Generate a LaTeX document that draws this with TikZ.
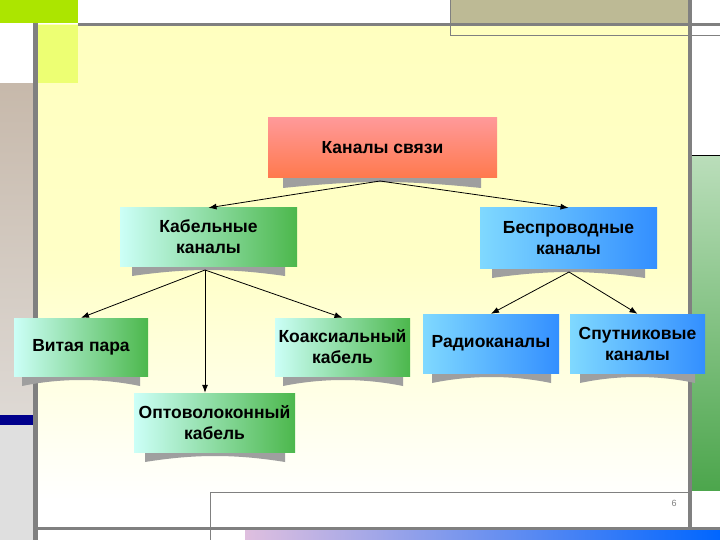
\documentclass[tikz,border=0pt]{standalone}
\usepackage{fontspec}
\setmainfont{Liberation Sans}
\usetikzlibrary{arrows.meta}
\begin{document}
\begin{tikzpicture}[x=1pt,y=-1pt,
 box/.style={minimum width=#1, inner sep=2pt, align=center, font=\fontsize{17.5}{21}\selectfont\bfseries},
 redbox/.style={top color=red!40!white, bottom color=red!50!orange!70!white},
 greenbox/.style={left color=green!15!cyan!20!white, right color=green!60!black!70!white},
 bluebox/.style={left color=blue!30!cyan!50!white, right color=blue!55!cyan!80!white},
 arr/.style={-{Latex[length=8pt,width=6pt]}, thick}]
\useasboundingbox (0,0) rectangle (720,540);
% background decoration
\fill[white] (0,0) rectangle (720,540);
\shade[top color=yellow!25, bottom color=white, middle color=yellow!22] (38,25) rectangle (688,500);
\fill[lime!90!black] (0,0) rectangle (78,23);
\fill[lime!50!yellow!55!white] (38,25) rectangle (78,83);
\fill[top color=brown!40!gray!55!white, bottom color=brown!25!gray!30!white] (0,84) rectangle (33,415);
\fill[blue!55!black] (0,415) rectangle (33,425);
\fill[gray!25] (0,425) rectangle (33,540);
\fill[gray] (33,23) rectangle (38,540);
\fill[gray] (78,23) rectangle (720,26);
\fill[olive!35!gray!60!white] (450,0) rectangle (688,23);
\draw[gray, thick] (450,0) -- (450,35) -- (688,35);
\fill[gray] (688,0) rectangle (692,540);
\draw[gray, thick] (692,35) -- (720,35);
\fill[top color=green!35!gray!40!white, bottom color=green!50!black!70!white] (692,156) rectangle (720,490);
\draw[black, thick] (692,155) -- (720,155);
\draw[gray, thick] (210,540) -- (210,492) -- (688,492);
\fill[gray] (38,527) rectangle (720,530);
\fill[left color=violet!25!white, right color=blue!60!cyan] (245,530) rectangle (720,540);
\node[gray, font=\small] (pg) at (674,503) {6};
% shadows
\foreach \a/\b/\c in {283/481/178, 132/285/266, 492/645/268, 22/140/376, 283/403/376, 145/285/452, 432/551/373, 580/695/373}{
  \fill[gray!75] (\a,\c) -- (\b,\c) -- (\b,\c+10) .. controls ({(\a+\b)/2+20},\c+2) and ({(\a+\b)/2-20},\c+2) .. (\a,\c+10) -- cycle;
}
% nodes
\node[box=229pt, minimum height=60pt, redbox] (root) at (382.5,148) {Каналы связи};
\node[box=177pt, minimum height=58pt, greenbox] (cab) at (208.5,237) {Кабельные\\каналы};
\node[box=177pt, minimum height=60pt, bluebox] (wl) at (568.5,238) {Беспроводные\\каналы};
\node[box=134pt, minimum height=58pt, greenbox] (tp) at (81,347) {Витая пара};
\node[box=135pt, minimum height=58pt, greenbox] (coax) at (342.5,347) {Коаксиальный\\кабель};
\node[box=161pt, minimum height=59pt, greenbox] (opt) at (214.5,422.5) {Оптоволоконный\\кабель};
\node[box=136pt, minimum height=59pt, bluebox] (radio) at (491,343.5) {Радиоканалы};
\node[box=135pt, minimum height=59pt, bluebox] (sat) at (637.5,343.5) {Спутниковые\\каналы};
% arrows
\coordinate (r0) at (380,181);
\coordinate (c0) at (205,270);
\coordinate (w0) at (569,272);
\draw[arr] (r0) -- (cab.north);
\draw[arr] (r0) -- (wl.north);
\draw[arr] (c0) -- (tp.north);
\draw[arr] (c0) -- (opt.north -| c0);
\draw[arr] (c0) -- (coax.north);
\draw[arr] (w0) -- (radio.north);
\draw[arr] (w0) -- (sat.north);
\end{tikzpicture}
\end{document}
